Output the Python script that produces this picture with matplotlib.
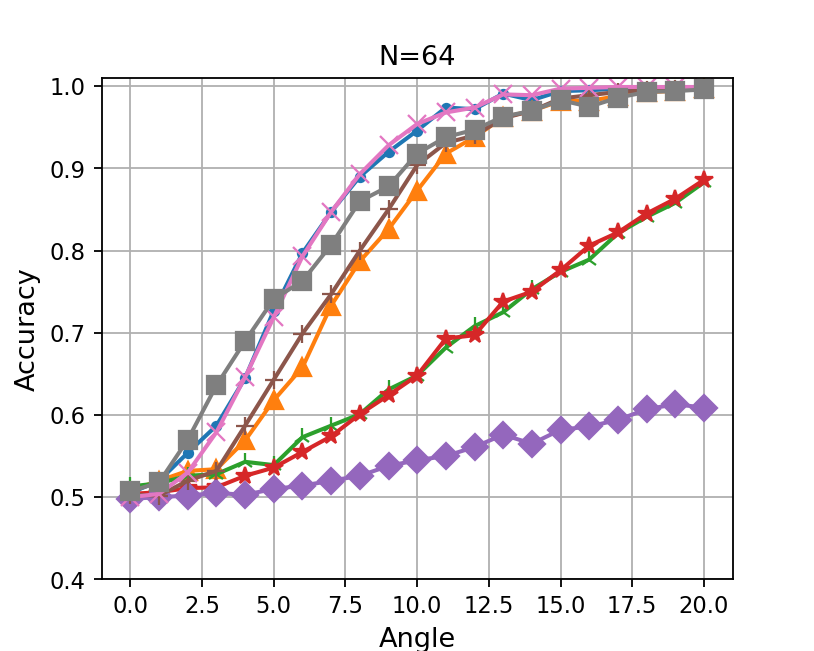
import numpy as np
import matplotlib
matplotlib.use("Agg")
import matplotlib.pyplot as plt

# ---- 数据：按图读数 ----
angles = list(range(21))

acc_blue = [0.505, 0.520, 0.554, 0.587, 0.645, 0.727, 0.797, 0.847, 0.890, 0.920, 0.946,
            0.974, 0.972, 0.991, 0.983, 0.994, 0.995, 0.997, 0.998, 0.998, 0.999]
acc_orange = [0.508, 0.520, 0.532, 0.534, 0.569, 0.618, 0.658, 0.733, 0.787, 0.826, 0.873,
              0.918, 0.938, 0.962, 0.970, 0.982, 0.982, 0.988, 0.993, 0.994, 0.998]
acc_green = [0.513, 0.517, 0.526, 0.528, 0.543, 0.539, 0.573, 0.587, 0.601, 0.631, 0.648,
             0.682, 0.708, 0.725, 0.753, 0.774, 0.789, 0.821, 0.841, 0.858, 0.883]
acc_red = [0.504, 0.506, 0.511, 0.512, 0.526, 0.536, 0.555, 0.574, 0.601, 0.624, 0.648,
           0.693, 0.697, 0.738, 0.750, 0.776, 0.806, 0.822, 0.845, 0.863, 0.886]
acc_purple = [0.498, 0.500, 0.502, 0.505, 0.503, 0.510, 0.514, 0.520, 0.526, 0.538, 0.545,
              0.550, 0.561, 0.576, 0.565, 0.582, 0.586, 0.594, 0.607, 0.613, 0.609]
acc_brown = [0.503, 0.502, 0.520, 0.532, 0.587, 0.643, 0.699, 0.747, 0.800, 0.850, 0.904,
             0.931, 0.940, 0.961, 0.970, 0.985, 0.989, 0.993, 0.995, 0.996, 0.997]
acc_pink = [0.500, 0.504, 0.530, 0.579, 0.646, 0.719, 0.793, 0.847, 0.893, 0.928, 0.954,
            0.968, 0.974, 0.990, 0.989, 0.997, 0.998, 0.999, 0.999, 0.999, 0.999]
acc_gray = [0.507, 0.518, 0.570, 0.636, 0.690, 0.741, 0.763, 0.807, 0.860, 0.878, 0.918,
            0.938, 0.947, 0.963, 0.970, 0.983, 0.975, 0.986, 0.993, 0.994, 0.996]

series = [acc_blue, acc_orange, acc_green, acc_red, acc_purple, acc_brown, acc_pink, acc_gray]
markers = [".", "^", "2", "*", "D", "+", "x", "s"]

fig, ax = plt.subplots(figsize=(5, 4), dpi=162.8)

for acc, mk in zip(series, markers):
    ax.plot(angles, acc, marker=mk, markersize=8, linewidth=1.8)

ax.set_ylim(0.4, 1.01)
ax.grid(True)
ax.set_title("N=64")
ax.set_xlabel("Angle", fontsize=12)
ax.set_ylabel("Accuracy", fontsize=12)

fig.savefig("out.png", dpi=162.8)
